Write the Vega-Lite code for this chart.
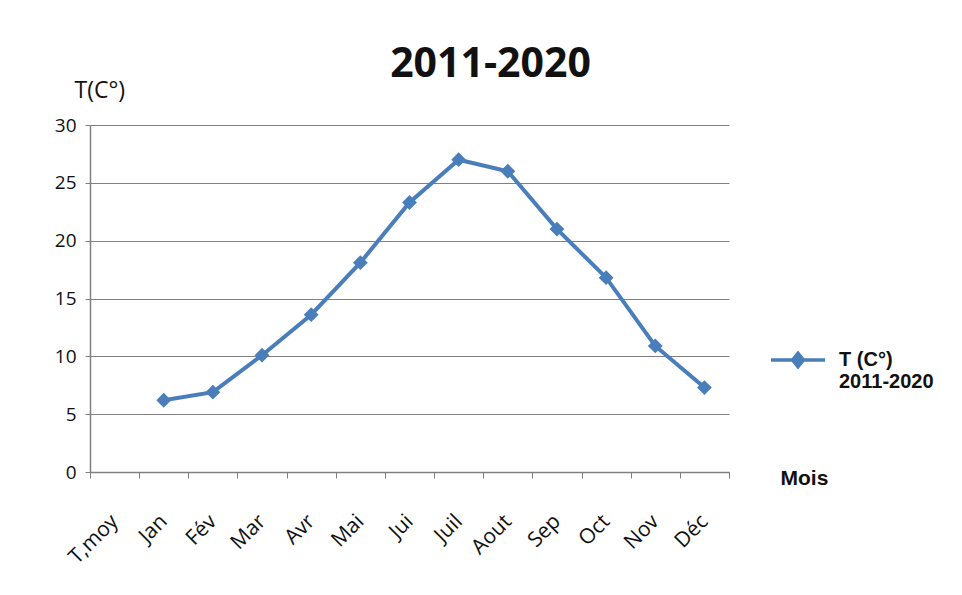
{
  "$schema": "https://vega.github.io/schema/vega-lite/v6.json",
  "autosize": "none",
  "width": 639,
  "height": 347,
  "padding": {"left": 90, "top": 125, "right": 233, "bottom": 123},
  "background": "white",
  "title": {
    "text": "2011-2020",
    "font": "Open Sans",
    "fontSize": 41,
    "fontWeight": "bold",
    "color": "#111111",
    "anchor": "middle",
    "frame": "group",
    "baseline": "alphabetic",
    "offset": 0,
    "dx": 81,
    "dy": 39
  },
  "data": {
    "values": [
      {"mois": "Jan", "T": 6.2, "serie": "T (C°) 2011-2020"},
      {"mois": "Fév", "T": 6.9, "serie": "T (C°) 2011-2020"},
      {"mois": "Mar", "T": 10.1, "serie": "T (C°) 2011-2020"},
      {"mois": "Avr", "T": 13.6, "serie": "T (C°) 2011-2020"},
      {"mois": "Mai", "T": 18.1, "serie": "T (C°) 2011-2020"},
      {"mois": "Jui", "T": 23.3, "serie": "T (C°) 2011-2020"},
      {"mois": "Juil", "T": 27.0, "serie": "T (C°) 2011-2020"},
      {"mois": "Aout", "T": 26.0, "serie": "T (C°) 2011-2020"},
      {"mois": "Sep", "T": 21.0, "serie": "T (C°) 2011-2020"},
      {"mois": "Oct", "T": 16.8, "serie": "T (C°) 2011-2020"},
      {"mois": "Nov", "T": 10.9, "serie": "T (C°) 2011-2020"},
      {"mois": "Déc", "T": 7.3, "serie": "T (C°) 2011-2020"}
    ]
  },
  "mark": {
    "type": "line",
    "strokeWidth": 4,
    "point": {"shape": "diamond", "size": 220, "filled": true, "color": "#4A7EBB"}
  },
  "encoding": {
    "x": {
      "field": "mois",
      "type": "ordinal",
      "bandPosition": 0.5,
      "sort": null,
      "scale": {
        "type": "band",
        "domain": ["T,moy", "Jan", "Fév", "Mar", "Avr", "Mai", "Jui", "Juil", "Aout", "Sep", "Oct", "Nov", "Déc"],
        "paddingInner": 0,
        "paddingOuter": 0
      },
      "axis": {
        "title": "Mois",
        "titleFont": "Liberation Sans",
        "titleFontSize": 21,
        "titleFontWeight": "bold",
        "titleColor": "#111111",
        "titleAlign": "left",
        "titleAnchor": "start",
        "titleBaseline": "alphabetic",
        "titleX": 690,
        "titleY": 12,
        "labelAngle": -45,
        "labelAlign": "right",
        "labelBaseline": "middle",
        "labelPadding": 40,
        "labelFont": "Open Sans",
        "labelFontSize": 21,
        "labelColor": "#111111",
        "tickBand": "extent",
        "tickSize": 6,
        "tickColor": "#808080",
        "domainColor": "#808080",
        "domainWidth": 1.5,
        "grid": false
      }
    },
    "y": {
      "field": "T",
      "type": "quantitative",
      "scale": {"domain": [0, 30], "nice": false, "zero": true},
      "axis": {
        "values": [0, 5, 10, 15, 20, 25, 30],
        "title": "T(C°)",
        "titleFont": "Open Sans",
        "titleFontSize": 23,
        "titleFontWeight": "normal",
        "titleColor": "#111111",
        "titleAngle": 0,
        "titleAlign": "left",
        "titleBaseline": "alphabetic",
        "titleX": -16,
        "titleY": -28,
        "labelFont": "Open Sans",
        "labelFontSize": 19,
        "labelColor": "#111111",
        "labelPadding": 9,
        "tickSize": 5,
        "tickColor": "#808080",
        "domainColor": "#808080",
        "domainWidth": 1.5,
        "gridColor": "#808080",
        "gridWidth": 1.2,
        "gridOpacity": 1
      }
    },
    "color": {
      "field": "serie",
      "type": "nominal",
      "scale": {"range": ["#4A7EBB"]},
      "legend": {
        "title": null,
        "orient": "none",
        "legendX": 679,
        "legendY": 206,
        "padding": 0,
        "symbolType": "M-1,0H1M-0.2,0L0,-0.25L0.2,0L0,0.25Z",
        "symbolSize": 2916,
        "symbolStrokeWidth": 3.5,
        "symbolFillColor": "#4A7EBB",
        "symbolStrokeColor": "#4A7EBB",
        "symbolOpacity": 1,
        "labelOffset": 12,
        "labelFont": "Liberation Sans",
        "labelFontSize": 20,
        "labelFontWeight": "bold",
        "labelColor": "#111111",
        "labelBaseline": "middle",
        "labelLineHeight": 24,
        "labelLimit": 300,
        "labelExpr": "['T (C°)', '2011-2020']"
      }
    }
  },
  "config": {
    "view": {"stroke": null}
  }
}
